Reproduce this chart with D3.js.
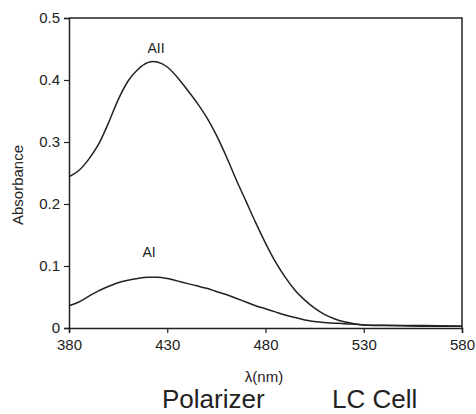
<!DOCTYPE html>
<html>
<head>
<meta charset="utf-8">
<script src="https://cdn.jsdelivr.net/npm/d3@7/dist/d3.min.js"></script>
<style>
    body { margin: 0; background: #fff; }
    text { font-family: "Liberation Sans", Arial, sans-serif; fill: #222; }
</style>
</head>
<body>
<svg id="chart" width="476" height="414"></svg>
<script>
// Spectrum data (wavelength in nm, absorbance)
const wlParallel = [380, 385, 390, 395, 400, 405, 410, 415, 420, 423, 425, 430, 435, 440, 445, 450, 455, 460, 465, 470, 475, 480, 485, 490, 495, 500, 505, 510, 515, 520, 525, 530, 540, 560, 580];
const absParallel = [0.244, 0.254, 0.272, 0.296, 0.330, 0.368, 0.398, 0.417, 0.428, 0.430, 0.429, 0.421, 0.405, 0.385, 0.364, 0.340, 0.311, 0.277, 0.240, 0.205, 0.170, 0.137, 0.107, 0.082, 0.061, 0.045, 0.032, 0.022, 0.015, 0.010, 0.007, 0.005, 0.004, 0.004, 0.003];

const wlPerp = [380, 385, 390, 395, 400, 405, 410, 415, 420, 425, 430, 435, 440, 445, 450, 455, 460, 465, 470, 475, 480, 485, 490, 495, 500, 510, 520, 530, 545, 560, 580];
const absPerp = [0.036, 0.042, 0.051, 0.060, 0.067, 0.073, 0.077, 0.080, 0.082, 0.082, 0.080, 0.076, 0.072, 0.068, 0.064, 0.059, 0.054, 0.048, 0.042, 0.036, 0.031, 0.026, 0.021, 0.017, 0.013, 0.009, 0.007, 0.005, 0.004, 0.003, 0.003];

const xTicks = [380, 430, 480, 530, 580];
const yTicks = [0, 0.1, 0.2, 0.3, 0.4, 0.5];

const svg = d3.select("#chart");
const margin = { left: 69, right: 14, top: 18, bottom: 86 };
const width = +svg.attr("width");
const height = +svg.attr("height");

const x = d3.scaleLinear().domain([380, 580]).range([margin.left, width - margin.right]);
const y = d3.scaleLinear().domain([0, 0.5]).range([height - margin.bottom, margin.top]);

// Axes
const xAxis = svg.append("g")
    .attr("transform", `translate(0,${y(0)})`)
    .call(d3.axisBottom(x).tickValues(xTicks).tickSize(5).tickPadding(6).tickFormat(d3.format("d")));

const yAxis = svg.append("g")
    .attr("transform", `translate(${x(380)},0)`)
    .call(d3.axisLeft(y).tickValues(yTicks).tickSize(5).tickPadding(4)
        .tickFormat(d => d === 0 ? "0" : d3.format(".1f")(d)));

[xAxis, yAxis].forEach(g => {
    g.select(".domain").attr("stroke", "#222").attr("stroke-width", 1.5);
    g.selectAll(".tick line").attr("stroke", "#222").attr("stroke-width", 1.2);
    g.selectAll(".tick text")
        .style("font-family", "'Liberation Sans', Arial, sans-serif")
        .style("font-size", "15px")
        .attr("fill", "#222");
});

// Box frame (top and right)
svg.append("path")
    .attr("d", `M${x(380)},${y(0.5)}H${x(580)}V${y(0)}`)
    .attr("fill", "none")
    .attr("stroke", "#222")
    .attr("stroke-width", 1.5);

// Curves
const line = d3.line()
    .x(d => x(d[0]))
    .y(d => y(d[1]))
    .curve(d3.curveMonotoneX);

svg.append("path")
    .datum(d3.zip(wlParallel, absParallel))
    .attr("d", line)
    .attr("fill", "none")
    .attr("stroke", "#222")
    .attr("stroke-width", 1.5);

svg.append("path")
    .datum(d3.zip(wlPerp, absPerp))
    .attr("d", line)
    .attr("fill", "none")
    .attr("stroke", "#222")
    .attr("stroke-width", 1.5);

// Curve labels
svg.append("text")
    .attr("x", 156).attr("y", 53)
    .attr("text-anchor", "middle")
    .style("font-size", "14px")
    .text("AII");

svg.append("text")
    .attr("x", 149).attr("y", 257)
    .attr("text-anchor", "middle")
    .style("font-size", "14px")
    .text("AI");

// Axis titles
svg.append("text")
    .attr("transform", "translate(23,185) rotate(-90)")
    .attr("text-anchor", "middle")
    .style("font-size", "15px")
    .text("Absorbance");

svg.append("text")
    .attr("x", 264).attr("y", 382)
    .attr("text-anchor", "middle")
    .style("font-size", "15px")
    .text("λ(nm)");

// Bottom captions
svg.append("text")
    .attr("x", 162).attr("y", 408)
    .style("font-size", "26px")
    .text("Polarizer");

svg.append("text")
    .attr("x", 332).attr("y", 408)
    .style("font-size", "26px")
    .text("LC Cell");
</script>
</body>
</html>
